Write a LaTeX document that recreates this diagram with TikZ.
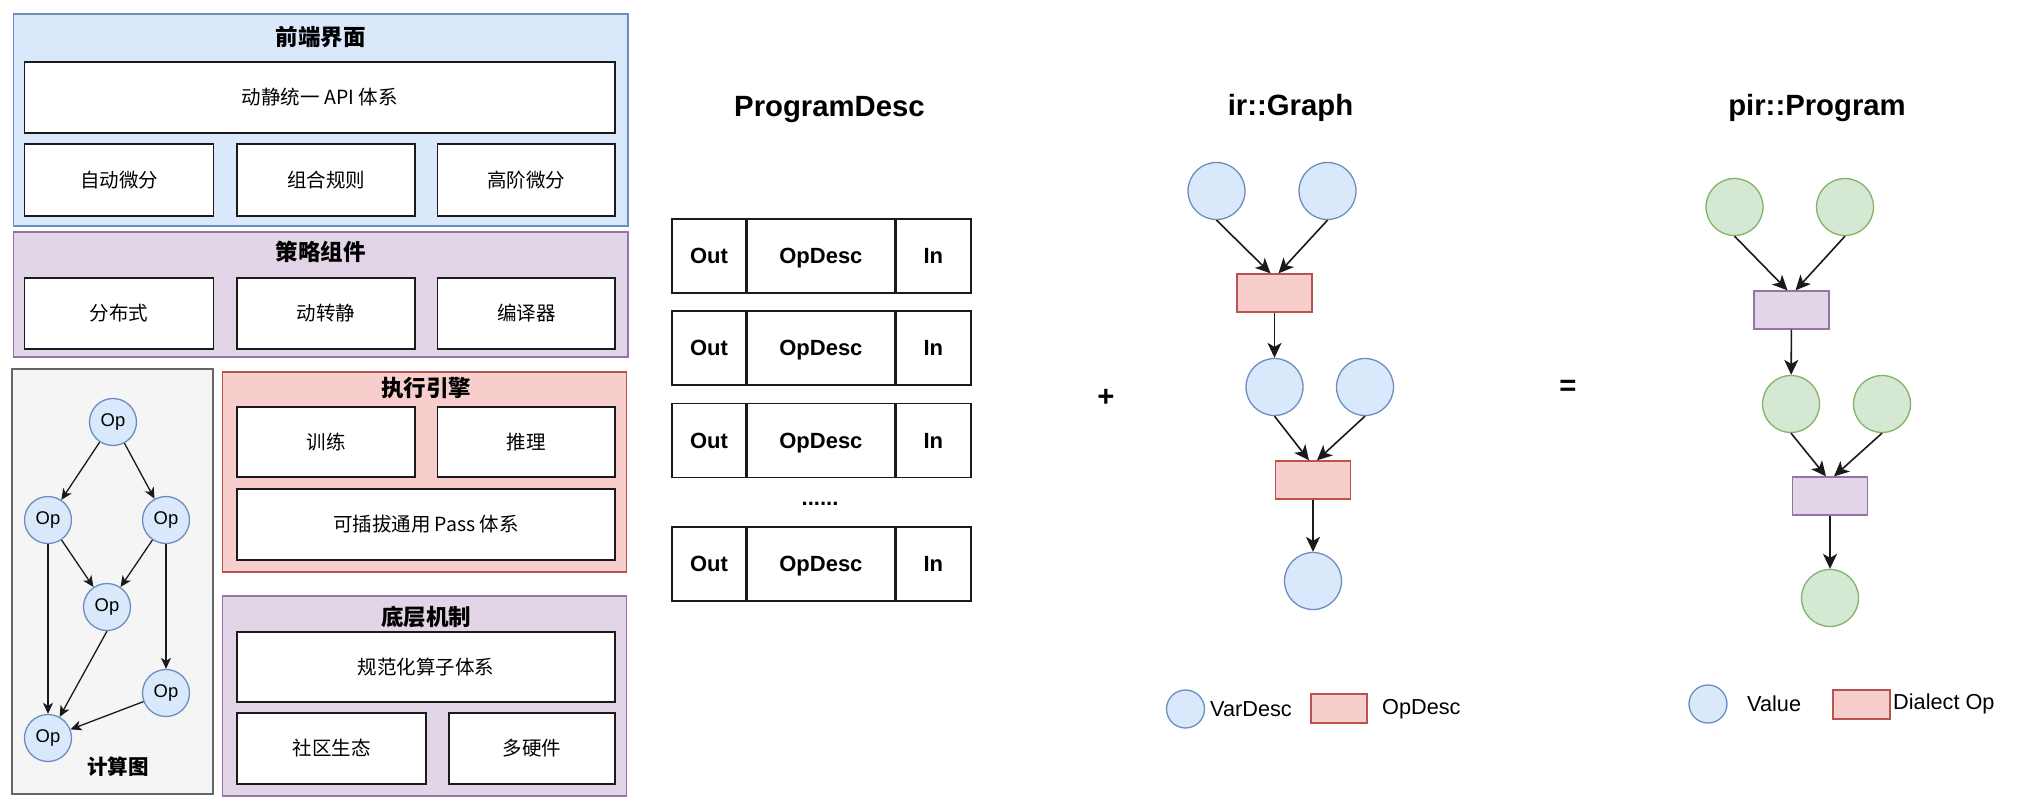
\documentclass[tikz,border=0pt]{standalone}
\usepackage{fontspec}
\setmainfont{Liberation Sans}
\newfontfamily\cjk{Noto Sans CJK SC}
\usetikzlibrary{arrows.meta,positioning}
\definecolor{ppBlueFill}{HTML}{DAE8FC}
\definecolor{ppBlueLine}{HTML}{6C8EBF}
\definecolor{ppPurpleFill}{HTML}{E1D5E7}
\definecolor{ppPurpleLine}{HTML}{9673A6}
\definecolor{ppRedFill}{HTML}{F8CECC}
\definecolor{ppRedLine}{HTML}{B85450}
\definecolor{ppGreenFill}{HTML}{D5E8D4}
\definecolor{ppGreenLine}{HTML}{82B366}
\definecolor{ppGrayFill}{HTML}{F5F5F5}
\definecolor{ppGrayLine}{HTML}{666666}
\definecolor{ppInk}{HTML}{1A1A1A}
\tikzset{
  ppframe/.style={draw=#1Line, fill=#1Fill, line width=1.3pt, inner sep=0pt},
  ppcell/.style={draw=ppInk, fill=white, line width=1.4pt, inner sep=0pt,
    font=\cjk\fontsize{19.5}{23}\selectfont},
  pphead/.style={font=\cjk\bfseries\fontsize{22.5}{26}\selectfont, inner sep=0pt},
  ppbig/.style={font=\bfseries\fontsize{29.3}{34}\selectfont, inner sep=0pt},
  pptab/.style={draw=ppInk, fill=white, line width=1.4pt, inner sep=0pt,
    minimum height=74pt, text height=15.8pt, text depth=0pt,
    font=\bfseries\fontsize{22}{26}\selectfont},
  ppop/.style={circle, draw=ppBlueLine, fill=ppBlueFill, line width=1.3pt,
    minimum size=47pt, inner sep=0pt, font=\fontsize{18.4}{21}\selectfont},
  ppvar/.style={circle, draw=#1Line, fill=#1Fill, line width=1.3pt,
    minimum size=57pt, inner sep=0pt},
  ppbox/.style={draw=#1Line, fill=#1Fill, line width=1.3pt,
    minimum width=75pt, minimum height=38pt, inner sep=0pt},
  ppkey/.style={font=\fontsize{21.7}{25}\selectfont, inner sep=0pt},
  pparrow/.style={-{Stealth[length=15pt,width=14pt,inset=4pt]}, line width=1.6pt, draw=ppInk},
  ppthin/.style={-{Stealth[length=11pt,width=10pt,inset=3pt]}, line width=1.3pt, draw=ppInk}
}
\begin{document}
\begin{tikzpicture}[x=1pt,y=-1pt]
  \useasboundingbox (0,0) rectangle (2024,806);
  \fill[white] (0,0) rectangle (2024,806);

  % front end
  \node[ppframe=ppBlue, minimum width=614.5pt, minimum height=212pt] (front) at (320.75,120) {};
  \node[pphead] (frontT) at (320.75,37) {前端界面};
  \node[ppcell, minimum width=590.5pt, minimum height=71pt] (api) at (319.75,97.5) {动静统一 API 体系};
  \node[ppcell, minimum width=189pt, minimum height=72pt] (autodiff) at (119,180) {自动微分};
  \node[ppcell, minimum width=178pt, minimum height=72pt] (comprule) at (326,180) {组合规则};
  \node[ppcell, minimum width=177.5pt, minimum height=72pt] (highdiff) at (526.25,180) {高阶微分};

  % strategy
  \node[ppframe=ppPurple, minimum width=614.5pt, minimum height=125pt] (strategy) at (320.75,294.5) {};
  \node[pphead] (strategyT) at (320.75,252) {策略组件};
  \node[ppcell, minimum width=189pt, minimum height=71pt] (dist) at (119,313.5) {分布式};
  \node[ppcell, minimum width=178pt, minimum height=71pt] (d2s) at (326,313.5) {动转静};
  \node[ppcell, minimum width=177.5pt, minimum height=71pt] (compiler) at (526.25,313.5) {编译器};

  % compute graph
  \node[ppframe=ppGray, minimum width=201pt, minimum height=425pt] (graph) at (112.5,581.5) {};
  \node[ppop] (opTop) at (113,422) {Op};
  \node[ppop] (opLeft) at (48,520) {Op};
  \node[ppop] (opRight) at (166,520) {Op};
  \node[ppop] (opMid) at (107,607) {Op};
  \node[ppop] (opRight2) at (166,693) {Op};
  \node[ppop] (opBottom) at (48,738) {Op};
  \node[pphead, font=\cjk\bfseries\fontsize{20.5}{24}\selectfont] (graphT) at (118,767) {计算图};
  \draw[ppthin] (opTop) -- (opLeft);
  \draw[ppthin] (opTop) -- (opRight);
  \draw[ppthin] (opLeft) -- (opMid);
  \draw[ppthin] (opRight) -- (opMid);
  \draw[ppthin] (opLeft) -- (opBottom);
  \draw[ppthin] (opRight) -- (opRight2);
  \draw[ppthin] (opMid.south) -- (opBottom);
  \draw[ppthin] (opRight2) -- (opBottom);

  % executor
  \node[ppframe=ppRed, minimum width=404pt, minimum height=200pt] (engine) at (424.5,472) {};
  \node[pphead] (engineT) at (426,388) {执行引擎};
  \node[ppcell, minimum width=178pt, minimum height=70pt] (train) at (326,442) {训练};
  \node[ppcell, minimum width=177.5pt, minimum height=70pt] (infer) at (526.25,442) {推理};
  \node[ppcell, minimum width=378pt, minimum height=71pt] (pass) at (426,524.5) {可插拔通用 Pass 体系};

  % base
  \node[ppframe=ppPurple, minimum width=404pt, minimum height=200pt] (base) at (424.5,696) {};
  \node[pphead] (baseT) at (426,617) {底层机制};
  \node[ppcell, minimum width=378pt, minimum height=70pt] (opset) at (426,667) {规范化算子体系};
  \node[ppcell, minimum width=189pt, minimum height=71pt] (community) at (331.5,748.5) {社区生态};
  \node[ppcell, minimum width=166pt, minimum height=71pt] (hardware) at (532,748.5) {多硬件};

  % ProgramDesc
  \node[ppbig, anchor=base] (progT) at (829.5,116) {ProgramDesc};
  \node[pptab, minimum width=74pt] (rowAout) at (709,256) {Out};
  \node[pptab, minimum width=147pt, right=0pt of rowAout] (rowAop) {OpDesc};
  \node[pptab, minimum width=75pt, right=0pt of rowAop] (rowAin) {In};
  \node[pptab, minimum width=74pt] (rowBout) at (709,348) {Out};
  \node[pptab, minimum width=147pt, right=0pt of rowBout] (rowBop) {OpDesc};
  \node[pptab, minimum width=75pt, right=0pt of rowBop] (rowBin) {In};
  \node[pptab, minimum width=74pt] (rowCout) at (709,440.5) {Out};
  \node[pptab, minimum width=147pt, right=0pt of rowCout] (rowCop) {OpDesc};
  \node[pptab, minimum width=75pt, right=0pt of rowCop] (rowCin) {In};
  \node[font=\bfseries\fontsize{22}{26}\selectfont, inner sep=0pt, anchor=base] (dots) at (820,505) {......};
  \node[pptab, minimum width=74pt] (rowDout) at (709,564) {Out};
  \node[pptab, minimum width=147pt, right=0pt of rowDout] (rowDop) {OpDesc};
  \node[pptab, minimum width=75pt, right=0pt of rowDop] (rowDin) {In};

  \node[ppbig] (plus) at (1106,398) {+};
  \node[ppbig] (equals) at (1568,388) {=};

  % ir::Graph
  \node[ppbig, anchor=base] (irT) at (1290.5,115) {ir::Graph};
  \node[ppvar=ppBlue] (varA) at (1216.5,191) {};
  \node[ppvar=ppBlue] (varB) at (1327.5,191) {};
  \node[ppbox=ppRed] (descA) at (1274.5,293) {};
  \node[ppvar=ppBlue] (varC) at (1274.5,387) {};
  \node[ppvar=ppBlue] (varD) at (1365,387) {};
  \node[ppbox=ppRed] (descB) at (1313,480) {};
  \node[ppvar=ppBlue] (varE) at (1313,581) {};
  \draw[pparrow] (varA.south) -- ([xshift=-4pt]descA.north);
  \draw[pparrow] (varB.south) -- ([xshift=4pt]descA.north);
  \draw[pparrow] (descA) -- (varC);
  \draw[pparrow] (varC.south) -- ([xshift=-4pt]descB.north);
  \draw[pparrow] (varD.south) -- ([xshift=4pt]descB.north);
  \draw[pparrow] (descB) -- (varE);
  \node[ppvar=ppBlue, minimum size=38pt] (varKey) at (1185.5,709) {};
  \node[ppkey, anchor=west] (varKeyT) at (1210,709) {VarDesc};
  \node[ppbox=ppRed, minimum width=56pt, minimum height=29pt] (descKey) at (1339,708.5) {};
  \node[ppkey, anchor=west] (descKeyT) at (1382,709) {OpDesc};

  % pir::Program
  \node[ppbig, anchor=base] (pirT) at (1817,115) {pir::Program};
  \node[ppvar=ppGreen] (valA) at (1734.5,207) {};
  \node[ppvar=ppGreen] (valB) at (1845,207) {};
  \node[ppbox=ppPurple] (dialA) at (1791.5,310) {};
  \node[ppvar=ppGreen] (valC) at (1791,404) {};
  \node[ppvar=ppGreen] (valD) at (1882,404) {};
  \node[ppbox=ppPurple] (dialB) at (1830,496) {};
  \node[ppvar=ppGreen] (valE) at (1830,598) {};
  \draw[pparrow] (valA.south) -- ([xshift=-4pt]dialA.north);
  \draw[pparrow] (valB.south) -- ([xshift=4pt]dialA.north);
  \draw[pparrow] (dialA) -- (valC);
  \draw[pparrow] (valC.south) -- ([xshift=-4pt]dialB.north);
  \draw[pparrow] (valD.south) -- ([xshift=4pt]dialB.north);
  \draw[pparrow] (dialB) -- (valE);
  \node[ppvar=ppBlue, minimum size=38pt] (valKey) at (1708,704) {};
  \node[ppkey, anchor=west] (valKeyT) at (1747,704) {Value};
  \node[ppbox=ppRed, minimum width=57pt, minimum height=29pt] (dialKey) at (1861.5,704.5) {};
  \node[ppkey, anchor=west] (dialKeyT) at (1893,704) {Dialect Op};
\end{tikzpicture}
\end{document}
